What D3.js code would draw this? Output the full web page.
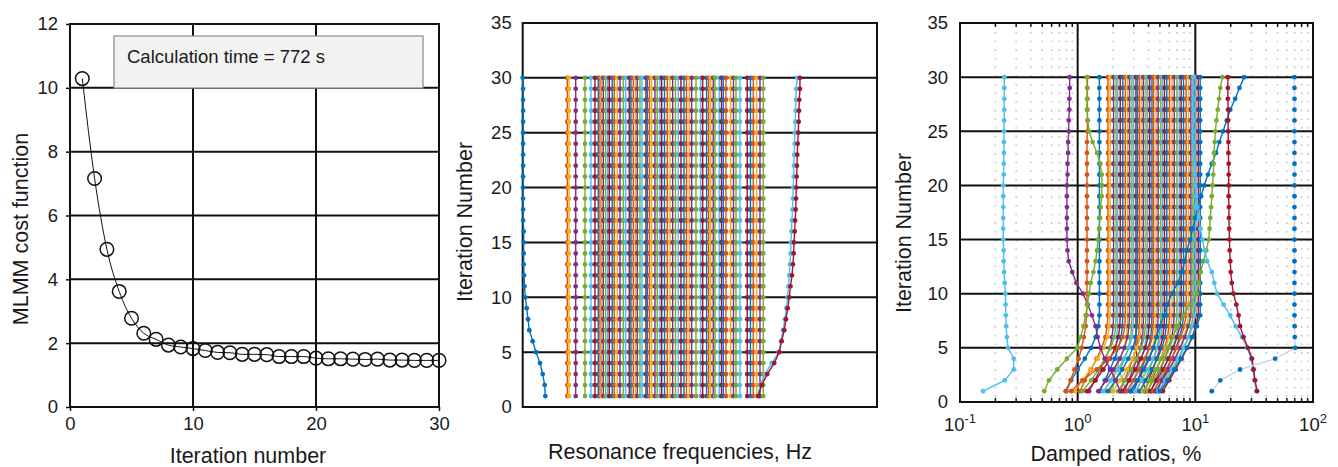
<!DOCTYPE html>
<html><head><meta charset="utf-8">
<script src="https://cdn.jsdelivr.net/npm/d3@7"></script>
<style>
body{margin:0;background:#fff}
text{font-family:"Liberation Sans",Arial,Helvetica,sans-serif;fill:#1a1a1a}
</style>
</head><body>
<svg id="c" width="1338" height="467"></svg>
<script>
// ---------------- DATA ----------------
const palette = ["#0072BD","#D95319","#EDB120","#7E2F8E","#77AC30","#4DBEEE","#A2142F"];
const iterations = [1,2,3,4,5,6,7,8,9,10,11,12,13,14,15,16,17,18,19,20,21,22,23,24,25,26,27,28,29,30];

// Panel 1: MLMM cost function
const costValues = [10.29,7.16,4.94,3.62,2.78,2.31,2.12,1.94,1.88,1.83,1.77,1.71,1.70,1.65,1.65,1.64,1.58,1.58,1.58,1.53,1.51,1.51,1.50,1.49,1.50,1.47,1.47,1.46,1.46,1.46];
const costXTicks = [0,10,20,30];
const costYTicks = [0,2,4,6,8,10,12];
const calcLabel = "Calculation time = 772 s";

// Panel 2: resonance frequencies (relative Hz units, no tick labels in source)
const freqLowMode = [6.38,6.21,5.64,4.88,3.75,2.82,1.86,1.50,1.13,0.73,0.51,0.37,0.28,0.28,0.28,0.28,0.1,0.1,0.1,0.1,0.1,0.1,0.1,0.1,0.1,0.1,0.1,0.1,0.1,0.0];
const freqStableModes = [12.59,13.07,14.96,17.58,19.27,20.40,21.33,21.81,22.29,22.75,23.42,23.99,24.44,25.28,25.85,26.70,27.46,28.39,29.07,30.08,30.56,31.21,31.83,32.34,33.10,33.67,34.79,35.16,35.78,36.40,37.33,37.98,38.75,39.23,40.02,40.81,41.57,42.33,43.12,43.91,44.67,45.52,46.22,47.02,47.69,48.91,50.23,50.80,51.92,52.49,53.05,53.79,54.27,55.48,56.10,56.61,57.37,58.70,59.49,60.19,61.32,63.38,64.29,65.08,66.04,66.97,67.90];
const freqHighModeA = [66.26,67.11,68.38,70.27,72.33,72.89,73.46,74.02,74.44,74.78,75.01,75.24,75.43,75.63,75.71,75.86,76.0,76.14,76.28,76.36,76.48,76.56,76.65,76.76,76.84,76.93,77.04,77.13,77.21,77.49];
const freqHighModeB = [66.49,67.45,69.03,71.00,72.41,73.09,73.82,74.30,74.78,75.24,75.57,76.0,76.28,76.48,76.56,76.76,76.90,77.04,77.15,77.21,77.32,77.41,77.49,77.61,77.78,77.89,77.97,78.06,78.25,78.25];
const iterTicks = [0,5,10,15,20,25,30,35];

// Panel 3: damped ratios, %  (bundle: iterations 1-7, then settled value from iteration 8 on)
const dampBundle = [
 [0.80,0.88,1.00,1.15,1.30,1.42,1.50,1.53],
 [1.05,1.15,1.30,1.45,1.60,1.72,1.78,1.81],
 [0.95,1.10,1.28,1.48,1.66,1.80,1.86,1.89],
 [1.25,1.40,1.55,1.72,1.88,1.96,2.00,2.02],
 [1.10,1.30,1.50,1.70,1.90,2.05,2.10,2.12],
 [2.60,2.40,2.25,2.15,2.12,2.15,2.18,2.19],
 [1.20,1.42,1.65,1.88,2.08,2.22,2.28,2.30],
 [1.55,1.70,1.88,2.06,2.22,2.34,2.40,2.42],
 [0.88,1.10,1.45,1.85,2.20,2.42,2.52,2.54],
 [1.70,1.90,2.10,2.30,2.48,2.60,2.64,2.66],
 [1.50,1.75,2.02,2.28,2.50,2.66,2.73,2.76],
 [1.90,2.10,2.30,2.50,2.70,2.82,2.87,2.89],
 [1.65,1.92,2.20,2.48,2.72,2.90,2.97,2.99],
 [3.80,3.55,3.35,3.20,3.13,3.12,3.13,3.13],
 [1.80,2.10,2.40,2.70,2.95,3.12,3.20,3.23],
 [2.30,2.50,2.72,2.95,3.15,3.28,3.34,3.36],
 [2.00,2.30,2.62,2.93,3.20,3.40,3.49,3.52],
 [2.50,2.72,2.96,3.20,3.42,3.56,3.61,3.63],
 [2.20,2.52,2.86,3.18,3.48,3.68,3.77,3.80],
 [2.75,2.98,3.22,3.46,3.68,3.84,3.91,3.93],
 [2.40,2.75,3.10,3.45,3.76,3.96,4.05,4.09],
 [3.00,3.25,3.50,3.76,4.00,4.18,4.25,4.28],
 [2.60,2.98,3.36,3.74,4.08,4.30,4.39,4.42],
 [3.20,3.48,3.76,4.05,4.32,4.52,4.61,4.64],
 [2.85,3.25,3.65,4.05,4.42,4.68,4.79,4.83],
 [3.45,3.76,4.08,4.40,4.70,4.94,5.05,5.09],
 [3.10,3.50,3.95,4.40,4.80,5.10,5.23,5.27],
 [3.70,4.00,4.35,4.70,5.02,5.30,5.42,5.47],
 [3.35,3.80,4.28,4.76,5.20,5.52,5.67,5.72],
 [3.95,4.30,4.68,5.08,5.48,5.80,5.97,6.03],
 [3.60,4.10,4.60,5.10,5.60,6.00,6.25,6.33],
 [4.20,4.60,5.05,5.50,5.95,6.30,6.52,6.62],
 [3.90,4.40,4.95,5.50,6.05,6.50,6.85,6.98],
 [4.45,4.90,5.40,5.90,6.40,6.85,7.15,7.30],
 [4.15,4.70,5.30,5.90,6.50,7.00,7.40,7.58],
 [4.70,5.20,5.75,6.30,6.85,7.35,7.75,7.94],
 [4.40,5.00,5.65,6.30,6.95,7.55,8.05,8.36],
 [4.95,5.50,6.10,6.75,7.40,8.00,8.45,8.76],
 [4.60,5.25,5.95,6.70,7.45,8.15,8.75,9.17],
 [5.15,5.80,6.50,7.25,8.00,8.70,9.25,9.55],
 [4.85,5.55,6.30,7.10,7.95,8.80,9.50,9.99],
 [5.30,6.00,6.80,7.65,8.55,9.40,10.1,10.6],
 [5.00,5.80,6.65,7.55,8.50,9.45,10.3,11.0]
];
const dampLowLightBlue = [0.157,0.24,0.286,0.286,0.256,0.25,0.247,0.245,0.244,0.243,0.24,0.237,0.235,0.235,0.233,0.233,0.233,0.233,0.233,0.233,0.235,0.235,0.236,0.236,0.237,0.237,0.238,0.238,0.238,0.238];
const dampPurple = [2.3,2.1,1.9,1.7,1.56,1.48,1.42,1.32,1.22,1.11,0.975,0.9,0.84,0.82,0.81,0.81,0.81,0.81,0.81,0.81,0.82,0.82,0.83,0.83,0.84,0.84,0.85,0.85,0.855,0.855];
const dampGreenLow = [0.52,0.57,0.67,0.81,0.99,1.06,1.12,1.17,1.21,1.25,1.29,1.36,1.42,1.46,1.49,1.52,1.55,1.57,1.60,1.61,1.60,1.56,1.46,1.34,1.25,1.22,1.20,1.20,1.20,1.20];
const dampOrangeLow = [0.79,0.87,0.94,1.02,1.08,1.13,1.17,1.19,1.20,1.20,1.20,1.20,1.20,1.20,1.20,1.20,1.20,1.20,1.20,1.20,1.20,1.20,1.20,1.20,1.21,1.21,1.21,1.21,1.21,1.21];
const dampBlueDiag = [2.8,3.2,3.6,4.0,4.4,4.7,5.0,5.4,5.8,6.3,7.1,7.7,8.1,8.5,9.0,9.5,10.0,10.5,11.2,11.9,12.8,13.8,15.0,16.0,17.2,18.5,19.8,21.8,23.7,26.0];
const dampGreenHigh = [3.7,4.1,4.6,5.2,5.8,6.4,7.1,7.9,9.0,10.3,10.7,11.1,11.7,12.4,13.0,13.2,13.4,13.6,13.8,14.0,14.2,14.3,14.4,14.6,14.8,15.1,15.5,15.9,16.3,17.0];
const dampLightBlueHigh = [33.0,31.8,30.8,29.8,27.6,24.9,22.0,19.8,17.4,15.3,14.5,13.8,12.6,12.0,11.5,11.0,10.7,10.4,10.2,10.0,9.9,9.8,9.7,9.7,9.6,9.6,9.6,9.6,9.6,9.6];
const dampRedHigh = [33.5,32.2,31.3,30.3,28.0,25.7,24.0,23.3,22.3,21.1,20.4,20.0,19.8,19.6,19.5,19.4,19.3,19.3,19.2,19.2,19.2,19.2,19.1,19.1,19.0,19.0,19.0,18.9,18.9,18.9];
const dampBlueFar = [13.8,16.3,24.0,47.7,70.6,70.0,69.8,69.6,69.6,69.6,69.6,69.6,69.6,69.6,69.6,69.6,69.6,69.6,69.6,69.6,69.6,69.6,69.6,69.6,69.6,69.6,69.6,69.6,69.6,69.6];
const dampXTicks = [0.1,1,10,100];
const dampXTickExp = ["-1","0","1","2"];

// ---------------- DRAW ----------------
const svg = d3.select("#c");
const TICK_FS = 18.5, TITLE_FS = 21.5;

function frame(g, x0, x1, y0, y1){
  g.append("rect").attr("x",x0).attr("y",y1).attr("width",x1-x0).attr("height",y0-y1)
   .attr("fill","none").attr("stroke","#111").attr("stroke-width",2);
}
function hGrid(g, ys, vals, x0, x1){
  g.selectAll(null).data(vals).enter().append("line")
   .attr("x1",x0).attr("x2",x1).attr("y1",d=>ys(d)).attr("y2",d=>ys(d))
   .attr("stroke","#111").attr("stroke-width",2);
}
function vGrid(g, xs, vals, y0, y1){
  g.selectAll(null).data(vals).enter().append("line")
   .attr("y1",y0).attr("y2",y1).attr("x1",d=>xs(d)).attr("x2",d=>xs(d))
   .attr("stroke","#111").attr("stroke-width",2);
}
function styleAxis(sel){
  sel.select(".domain").remove();
  sel.selectAll(".tick line").attr("stroke","#111").attr("stroke-width",1.5);
  sel.selectAll(".tick text").attr("font-size",TICK_FS).attr("fill","#1a1a1a")
     .attr("font-family",'"Liberation Sans",Arial,sans-serif');
}
function seriesDraw(g, xs, ys, vals, color, lineColor){
  const pts = vals.map((v,i)=>({x:v, y:iterations[i]}));
  g.append("path").datum(pts)
    .attr("d", d3.line().x(d=>xs(d.x)).y(d=>ys(d.y)))
    .attr("fill","none").attr("stroke", lineColor||color).attr("stroke-width",1.4);
  g.selectAll(null).data(pts).enter().append("circle")
    .attr("cx",d=>xs(d.x)).attr("cy",d=>ys(d.y)).attr("r",2.4).attr("fill",color);
}

// ===== Panel 1 =====
{
  const X0=70, X1=439, Y0=407, Y1=24;
  const xs = d3.scaleLinear().domain([0,30]).range([X0,X1]);
  const ys = d3.scaleLinear().domain([0,12]).range([Y0,Y1]);
  const g = svg.append("g");
  hGrid(g, ys, costYTicks.filter(d=>d>0 && d<12), X0, X1);
  vGrid(g, xs, costXTicks.filter(d=>d>0 && d<30), Y0, Y1);
  g.append("rect").attr("x",114).attr("y",36).attr("width",309).attr("height",52)
    .attr("fill","#f2f2f2").attr("stroke","#8a8a8a").attr("stroke-width",1.2);
  g.append("text").attr("x",127).attr("y",63).attr("font-size",18.5).text(calcLabel);
  frame(g, X0, X1, Y0, Y1);
  g.append("g").attr("transform",`translate(${X0},0)`)
    .call(d3.axisLeft(ys).tickValues(costYTicks).tickSize(4).tickPadding(8).tickFormat(d3.format("d"))).call(styleAxis);
  g.append("g").attr("transform",`translate(0,${Y0})`)
    .call(d3.axisBottom(xs).tickValues(costXTicks).tickSize(4).tickPadding(6).tickFormat(d3.format("d"))).call(styleAxis);
  const pts = costValues.map((v,i)=>({x:iterations[i], y:v}));
  g.append("path").datum(pts).attr("d", d3.line().x(d=>xs(d.x)).y(d=>ys(d.y)).curve(d3.curveMonotoneX))
    .attr("fill","none").attr("stroke","#111").attr("stroke-width",1);
  g.selectAll(null).data(pts).enter().append("circle")
    .attr("cx",d=>xs(d.x)).attr("cy",d=>ys(d.y)).attr("r",6.8)
    .attr("fill","none").attr("stroke","#111").attr("stroke-width",1.5);
  g.append("text").attr("x",248).attr("y",463).attr("text-anchor","middle").attr("font-size",TITLE_FS).text("Iteration number");
  g.append("text").attr("transform","translate(28,229) rotate(-90)").attr("text-anchor","middle").attr("font-size",TITLE_FS).text("MLMM cost function");
}

// ===== Panel 2 =====
{
  const X0=522.7, X1=877, Y0=407, Y1=23;
  const xs = d3.scaleLinear().domain([0,100]).range([X0,X1]);
  const ys = d3.scaleLinear().domain([0,35]).range([Y0,Y1]);
  const g = svg.append("g");
  hGrid(g, ys, iterTicks.filter(d=>d>0 && d<35), X0, X1);
  frame(g, X0, X1, Y0, Y1);
  g.append("g").attr("transform",`translate(${X0},0)`)
    .call(d3.axisLeft(ys).tickValues(iterTicks).tickSize(0).tickPadding(11).tickFormat(d3.format("d"))).call(styleAxis);
  const all = [freqLowMode].concat(freqStableModes.map(f=>iterations.map(()=>f)), [freqHighModeA, freqHighModeB]);
  all.forEach((vals,i)=> seriesDraw(g, xs, ys, vals, palette[i%7]));
  g.append("text").attr("x",680).attr("y",459).attr("text-anchor","middle").attr("font-size",TITLE_FS).text("Resonance frequencies, Hz");
  g.append("text").attr("transform","translate(472,222) rotate(-90)").attr("text-anchor","middle").attr("font-size",TITLE_FS).text("Iteration Number");
}

// ===== Panel 3 =====
{
  const X0=960, X1=1313, Y0=402, Y1=23;
  const xs = d3.scaleLog().domain([0.1,100]).range([X0,X1]);
  const ys = d3.scaleLinear().domain([0,35]).range([Y0,Y1]);
  const g = svg.append("g");
  const minors = [];
  [0.1,1,10].forEach(b=>{ for(let k=2;k<=9;k++) minors.push(b*k); });
  g.selectAll(null).data(minors).enter().append("line")
    .attr("x1",d=>xs(d)).attr("x2",d=>xs(d)).attr("y1",Y1+9).attr("y2",Y0)
    .attr("stroke","#c4c4c4").attr("stroke-width",1.6).attr("stroke-dasharray","1.6,7.05");
  hGrid(g, ys, iterTicks.filter(d=>d>0 && d<35), X0, X1);
  vGrid(g, xs, dampXTicks.filter(d=>d>0.1 && d<100), Y0, Y1);
  g.selectAll(null).data(minors).enter().append("line")
    .attr("x1",d=>xs(d)).attr("x2",d=>xs(d)).attr("y1",Y0).attr("y2",Y0-4).attr("stroke","#111").attr("stroke-width",1.5);
  g.selectAll(null).data(minors).enter().append("line")
    .attr("x1",d=>xs(d)).attr("x2",d=>xs(d)).attr("y1",Y1).attr("y2",Y1+4).attr("stroke","#111").attr("stroke-width",1.5);
  frame(g, X0, X1, Y0, Y1);
  g.append("g").attr("transform",`translate(${X0},0)`)
    .call(d3.axisLeft(ys).tickValues(iterTicks).tickSize(0).tickPadding(12).tickFormat(d3.format("d"))).call(styleAxis);
  const xt = g.selectAll(null).data(dampXTicks).enter().append("text")
    .attr("x",d=>xs(d)).attr("y",431).attr("text-anchor","middle").attr("font-size",TICK_FS);
  xt.append("tspan").text("10");
  xt.append("tspan").attr("dy",-8).attr("font-size",13).text((d,i)=>dampXTickExp[i]);

  dampBundle.forEach((r,i)=>{
    const vals = iterations.map((it,k)=> k<7 ? r[k] : r[7]);
    seriesDraw(g, xs, ys, vals, palette[i%7]);
  });
  seriesDraw(g, xs, ys, dampLowLightBlue, palette[5]);
  seriesDraw(g, xs, ys, dampPurple, palette[3]);
  seriesDraw(g, xs, ys, dampOrangeLow, palette[1]);
  seriesDraw(g, xs, ys, dampGreenLow, palette[4]);
  seriesDraw(g, xs, ys, dampBlueDiag, palette[0]);
  seriesDraw(g, xs, ys, dampGreenHigh, palette[4]);
  seriesDraw(g, xs, ys, dampLightBlueHigh, palette[5]);
  seriesDraw(g, xs, ys, dampRedHigh, palette[6]);
  seriesDraw(g, xs, ys, dampBlueFar, palette[0], "#c8d6ee");

  g.append("text").attr("x",1116).attr("y",461).attr("text-anchor","middle").attr("font-size",TITLE_FS).text("Damped ratios, %");
  g.append("text").attr("transform","translate(911,233) rotate(-90)").attr("text-anchor","middle").attr("font-size",TITLE_FS).text("Iteration Number");
}
</script>
</body></html>
